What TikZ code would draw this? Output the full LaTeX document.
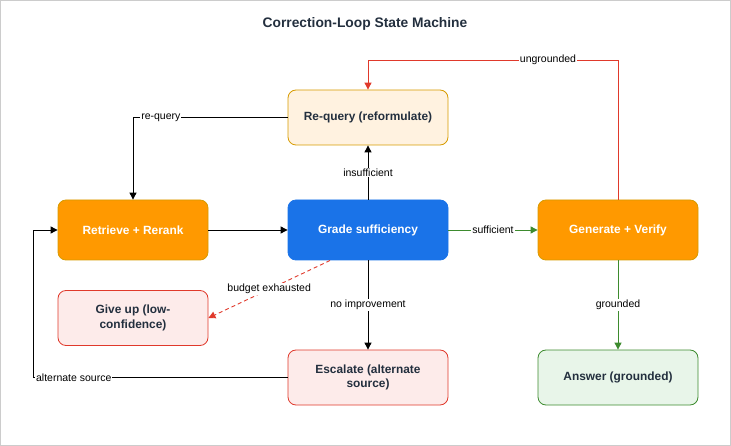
\documentclass[tikz,border=0pt]{standalone}
\usepackage{fontspec}
\setmainfont{Liberation Sans}
\usepackage{tikz}
\usetikzlibrary{arrows.meta}
\definecolor{loopink}{HTML}{232F3E}
\definecolor{loopamber}{HTML}{FF9900}
\definecolor{loopamberdk}{HTML}{D79B00}
\definecolor{loopcream}{HTML}{FFF2E0}
\definecolor{loopblue}{HTML}{1A73E8}
\definecolor{loopred}{HTML}{E0392B}
\definecolor{looprose}{HTML}{FDEBEA}
\definecolor{loopgreen}{HTML}{3D8B2E}
\definecolor{loopmint}{HTML}{E8F5E9}

\begin{document}
\begin{tikzpicture}[x=1pt,y=-1pt,
  box/.style={rounded corners=8pt,align=center,inner sep=3pt,line width=0.8pt,
    font=\fontsize{11.9}{14.5}\selectfont\bfseries},
  work/.style={box,draw=loopamberdk,fill=loopamber,text=white,minimum height=60pt},
  judge/.style={box,draw=loopblue,fill=loopblue,text=white,minimum width=160pt,minimum height=60pt},
  retry/.style={box,draw=loopamberdk,fill=loopcream,text=loopink,minimum width=160pt,minimum height=55pt},
  fail/.style={box,draw=loopred,fill=looprose,text=loopink,minimum height=55pt},
  done/.style={box,draw=loopgreen,fill=loopmint,text=loopink,minimum width=160pt,minimum height=55pt},
  flow/.style={-{Triangle[length=7pt,width=7pt]},line width=0.9pt},
  tag/.style={fill=white,inner sep=1pt,text=black,font=\fontsize{10.5}{12}\selectfont}]
  \useasboundingbox (0,0) rectangle (731,446);
  \draw[black!20] (0.5,0.5) rectangle (730.5,445.5);
  \node[font=\fontsize{13.8}{16}\selectfont\bfseries,text=loopink] (title) at (365,24) {Correction-Loop State Machine};
  \node[retry] (rq) at (368,117.5) {Re-query (reformulate)};
  \node[work,minimum width=150pt] (rr) at (133,230) {Retrieve + Rerank};
  \node[judge] (gs) at (368,230) {Grade sufficiency};
  \node[work,minimum width=160pt] (gv) at (618,230) {Generate + Verify};
  \node[fail,minimum width=150pt] (gu) at (133,318) {Give up (low-\\confidence)};
  \node[fail,minimum width=160pt] (es) at (368,377.5) {Escalate (alternate\\source)};
  \node[done] (an) at (618,377.5) {Answer (grounded)};
  \coordinate (rqa) at (133,117.5);
  \coordinate (ua) at (618,60);
  \coordinate (ub) at (368,60);
  \coordinate (aa) at (33,377.5);
  \coordinate (ab) at (33,230);
  \coordinate (bx) at (330,260.5);
  \draw[flow] (rr) -- (gs);
  \draw[flow] (gs) -- node[tag] {insufficient} (rq);
  \draw[flow] (rq.west) -- node[tag,pos=0.82] {re-query} (rqa) -- (rr.north);
  \draw[flow,loopgreen] (gs) -- node[tag] {sufficient} (gv);
  \draw[flow,loopred] (gv.north) -- (ua) -- node[tag,pos=0.28] {ungrounded} (ub) -- (rq.north);
  \draw[flow,loopred,dash pattern=on 4pt off 3pt] (bx) -- node[tag] {budget exhausted} (gu.east);
  \draw[flow] (gs) -- node[tag] {no improvement} (es);
  \draw[flow] (es.west) -- node[tag,pos=0.84] {alternate source} (aa) -- (ab) -- (rr.west);
  \draw[flow,loopgreen] (gv) -- node[tag] {grounded} (an);
\end{tikzpicture}
\end{document}
